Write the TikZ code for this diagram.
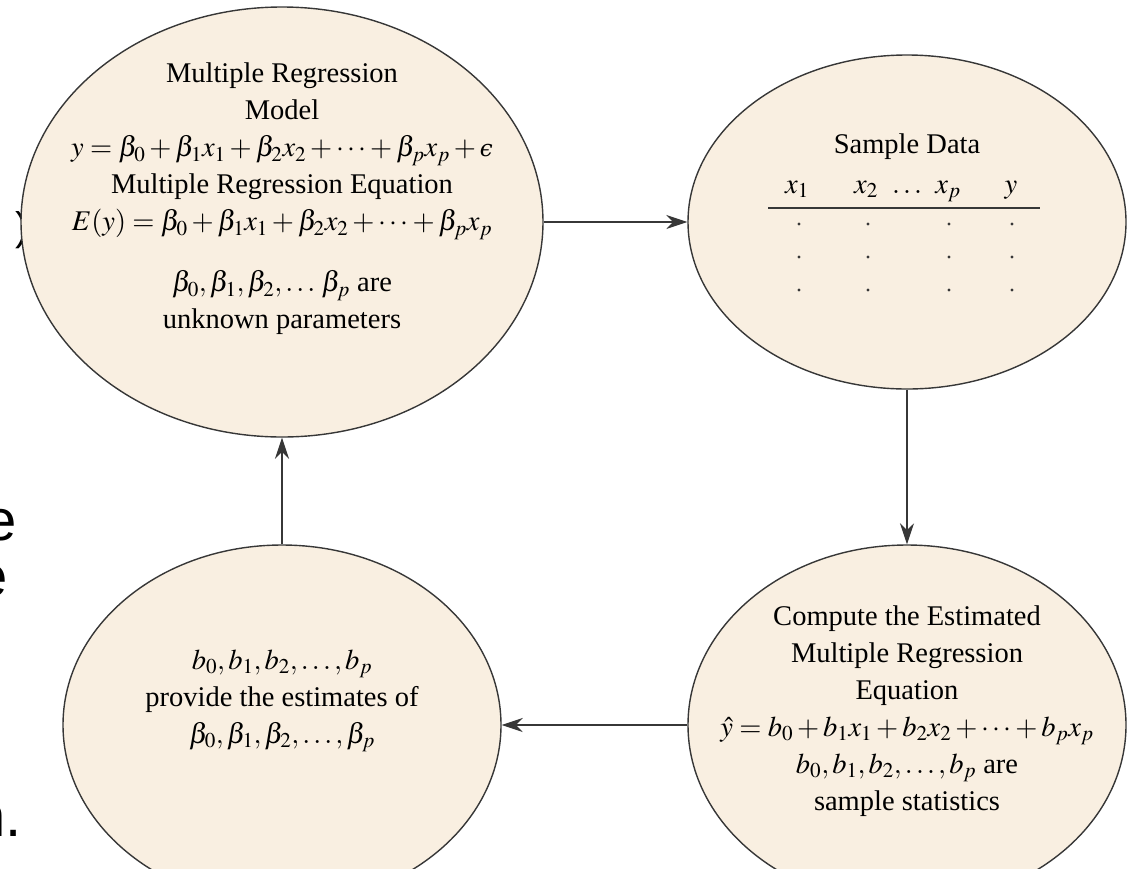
\documentclass[tikz,border=0pt]{standalone}
\usepackage{mathptmx}
\usepackage[no-math]{fontspec}
\setmainfont{Liberation Serif}
\newfontfamily\fragfont{Liberation Sans}
\newfontfamily\epsfont{DejaVu Serif}
\usetikzlibrary{shapes.geometric, arrows.meta, positioning}
\definecolor{cream}{RGB}{249,239,225}
\definecolor{edge}{RGB}{55,55,55}
\newcommand{\lunate}{\mbox{\epsfont\itshape\fontsize{23}{23}\selectfont ϵ}}
\tikzset{
  blob/.style={ellipse, draw=edge, fill=cream, line width=1.4pt, inner sep=0pt},
  txt/.style={align=center, inner sep=0pt, font=\fontsize{28.5}{37}\selectfont},
  flow/.style={draw=edge, line width=1.6pt, -{Stealth[length=21pt,width=14pt]}},
  frag/.style={inner sep=0pt, font=\fragfont\fontsize{58}{60}\selectfont},
}

\begin{document}
\begin{tikzpicture}[x=1pt, y=-1pt]
  \useasboundingbox (0,0) rectangle (1127,868);
  \clip (0,0) rectangle (1127,868);

  % Leftover letters at the left border
  \node[frag, anchor=east, font=\fragfont\fontsize{40}{40}\selectfont] (frag0) at (29,230) {)};
  \node[frag, anchor=base east] (frag1) at (17,540) {e};
  \node[frag, anchor=base east] (frag2) at (8,596) {e};
  \node[frag, anchor=base east] (frag3) at (22,836) {n.};

  % Ellipses
  \node[blob, minimum width=522, minimum height=430] (model) at (282,222) {};
  \node[blob, minimum width=438, minimum height=334] (sample) at (907,222) {};
  \node[blob, minimum width=438, minimum height=360] (compute) at (907,725) {};
  \node[blob, minimum width=438, minimum height=360] (estim) at (282,725) {};

  % Model
  \node[txt] (modeltxt) at (282,199) {Multiple Regression\\ Model\\
    $y=\beta_0+\beta_1x_1+\beta_2x_2+\cdots+\beta_px_p+\lunate$\\
    Multiple Regression Equation\\
    $E(y)=\beta_0+\beta_1x_1+\beta_2x_2+\cdots+\beta_px_p$\\[24pt]
    $\beta_0,\beta_1,\beta_2,\ldots\,\beta_p$ are\\ unknown parameters};

  % Sample data
  \node[txt] (sampletxt) at (907,147) {Sample Data};
  \foreach \x/\lab [count=\i] in {797/x_1, 866/x_2, 907/\ldots, 948/x_p, 1011/y}
    \node[txt, anchor=base] (head\i) at (\x,193) {$\lab$};
  \draw[edge, line width=1.4pt] (768,208) -- (1040,208);
  \foreach \x in {799,868,949,1012}
    \foreach \y in {224,257,290}
      \fill[edge] (\x,\y) circle (1.7);

  % Compute
  \node[txt] (computetxt) at (907,711) {Compute the Estimated\\ Multiple Regression\\ Equation\\
    $\hat{y}=b_0+b_1x_1+b_2x_2+\cdots+b_px_p$\\
    $b_0,b_1,b_2,\ldots,b_p$ are\\ sample statistics};

  % Estimates
  \node[txt] (estimtxt) at (282,701) {$b_0,b_1,b_2,\ldots,b_p$\\
    provide the estimates of\\ $\beta_0,\beta_1,\beta_2,\ldots,\beta_p$};

  % Arrows
  \draw[flow] (model) -- (sample);
  \draw[flow] (sample) -- (compute);
  \draw[flow] (compute) -- (estim);
  \draw[flow] (estim) -- (model);
\end{tikzpicture}
\end{document}
